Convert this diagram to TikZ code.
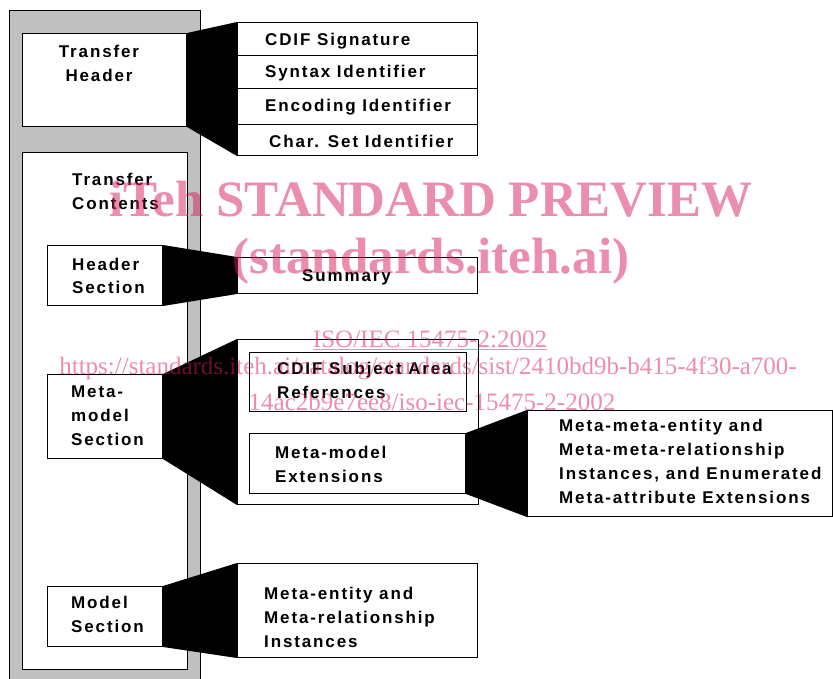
\documentclass[tikz,border=0pt]{standalone}
\usepackage{fontspec}
\newfontfamily\lab[LetterSpace=11]{Liberation Sans}
\newfontfamily\wm{Liberation Serif}
\definecolor{barre}{RGB}{192,192,192}
\definecolor{rose}{RGB}{215,30,90}
\tikzset{
  boite/.style={draw=black, line width=1pt, fill=white, inner sep=0pt, anchor=north west},
  texte/.style={font={\lab\bfseries\fontsize{17}{24}\selectfont}, align=left, anchor=base west, inner sep=0pt},
  filigrane/.style={text=rose, text opacity=0.5, inner sep=0pt, anchor=base}
}
\begin{document}
\begin{tikzpicture}[x=1pt,y=-1pt]
\useasboundingbox (0,0) rectangle (833,679);
\clip (0,0) rectangle (833,679);

% cadre gris
\node[boite, fill=barre, minimum width=191pt, minimum height=690pt] (cadre) at (9,10) {};
\node[boite, minimum width=164pt, minimum height=93pt] (th) at (22,33) {};
\node[boite, minimum width=165pt, minimum height=517pt] (tc) at (22,152) {};

% en-tete
\node[boite, minimum width=240pt, minimum height=33pt] (sig) at (237,22) {};
\node[boite, minimum width=240pt, minimum height=33pt] (syn) at (237,55) {};
\node[boite, minimum width=240pt, minimum height=36pt] (enc) at (237,88) {};
\node[boite, minimum width=240pt, minimum height=31pt] (chs) at (237,124) {};

% sections
\node[boite, minimum width=115pt, minimum height=60pt] (hs) at (47,245) {};
\node[boite, minimum width=240pt, minimum height=36pt] (sum) at (237,257) {};
\node[boite, minimum width=115pt, minimum height=84pt] (mms) at (47,374) {};
\node[boite, minimum width=241pt, minimum height=165pt] (mmb) at (237,339) {};
\node[boite, minimum width=217pt, minimum height=59pt] (ref) at (249,352) {};
\node[boite, minimum width=216pt, minimum height=60pt] (ext) at (249,433) {};
\node[boite, minimum width=305pt, minimum height=106pt] (mme) at (527,410) {};
\node[boite, minimum width=115pt, minimum height=60pt] (ms) at (47,586) {};
\node[boite, minimum width=240pt, minimum height=94pt] (inst) at (237,563) {};

% entonnoirs noirs
\fill (th.north east) -- (sig.north west) -- (chs.south west) -- (th.south east) -- cycle;
\fill (hs.north east) -- (sum.north west) -- (sum.south west) -- (hs.south east) -- cycle;
\fill (mms.north east) -- (mmb.north west) -- (mmb.south west) -- (mms.south east) -- cycle;
\fill (ext.north east) -- (mme.north west) -- (mme.south west) -- (ext.south east) -- cycle;
\fill (ms.north east) -- (inst.north west) -- (inst.south west) -- (ms.south east) -- cycle;

% textes (ligne de base = derniere ligne)
\node[texte, align=center, anchor=base] (tth) at (99,82) {Transfer\\Header};
\node[texte] (tsig) at (265,46) {CDIF Signature};
\node[texte] (tsyn) at (265,78) {Syntax Identifier};
\node[texte] (tenc) at (265,112) {Encoding Identifier};
\node[texte] (tchs) at (269,148) {Char. Set Identifier};
\node[texte] (ttc) at (72,210) {Transfer\\Contents};
\node[texte] (ths) at (72,294) {Header\\Section};
\node[texte] (tsum) at (302,282) {Summary};
\node[texte] (tmms) at (71,445) {Meta-\\model\\Section};
\node[texte] (tref) at (277,398) {CDIF Subject Area\\References};
\node[texte] (lext) at (275,482) {Meta-model\\Extensions};
\node[texte] (tmme) at (559,503) {Meta-meta-entity and\\Meta-meta-relationship\\Instances, and Enumerated\\Meta-attribute Extensions};
\node[texte] (tms) at (71,632) {Model\\Section};
\node[texte] (tinst) at (264,647) {Meta-entity and\\Meta-relationship\\Instances};

% filigrane
\node[filigrane, font={\wm\bfseries\fontsize{51}{51}\selectfont}] (wm1) at (431,217) {iTeh STANDARD PREVIEW};
\node[filigrane, font={\wm\bfseries\fontsize{51}{51}\selectfont}] (wm2) at (431,273) {(standards.iteh.ai)};
\node[filigrane, font={\wm\fontsize{25}{25}\selectfont}] (wm3) at (430,347) {\underline{ISO/IEC 15475-2:2002}};
\node[filigrane, font={\wm\fontsize{25}{25}\selectfont}] (wm4) at (428,374) {https://standards.iteh.ai/catalog/standards/sist/2410bd9b-b415-4f30-a700-};
\node[filigrane, font={\wm\fontsize{25}{25}\selectfont}] (wm5) at (432,410) {14ac2b9e7ee8/iso-iec-15475-2-2002};
\end{tikzpicture}
\end{document}
